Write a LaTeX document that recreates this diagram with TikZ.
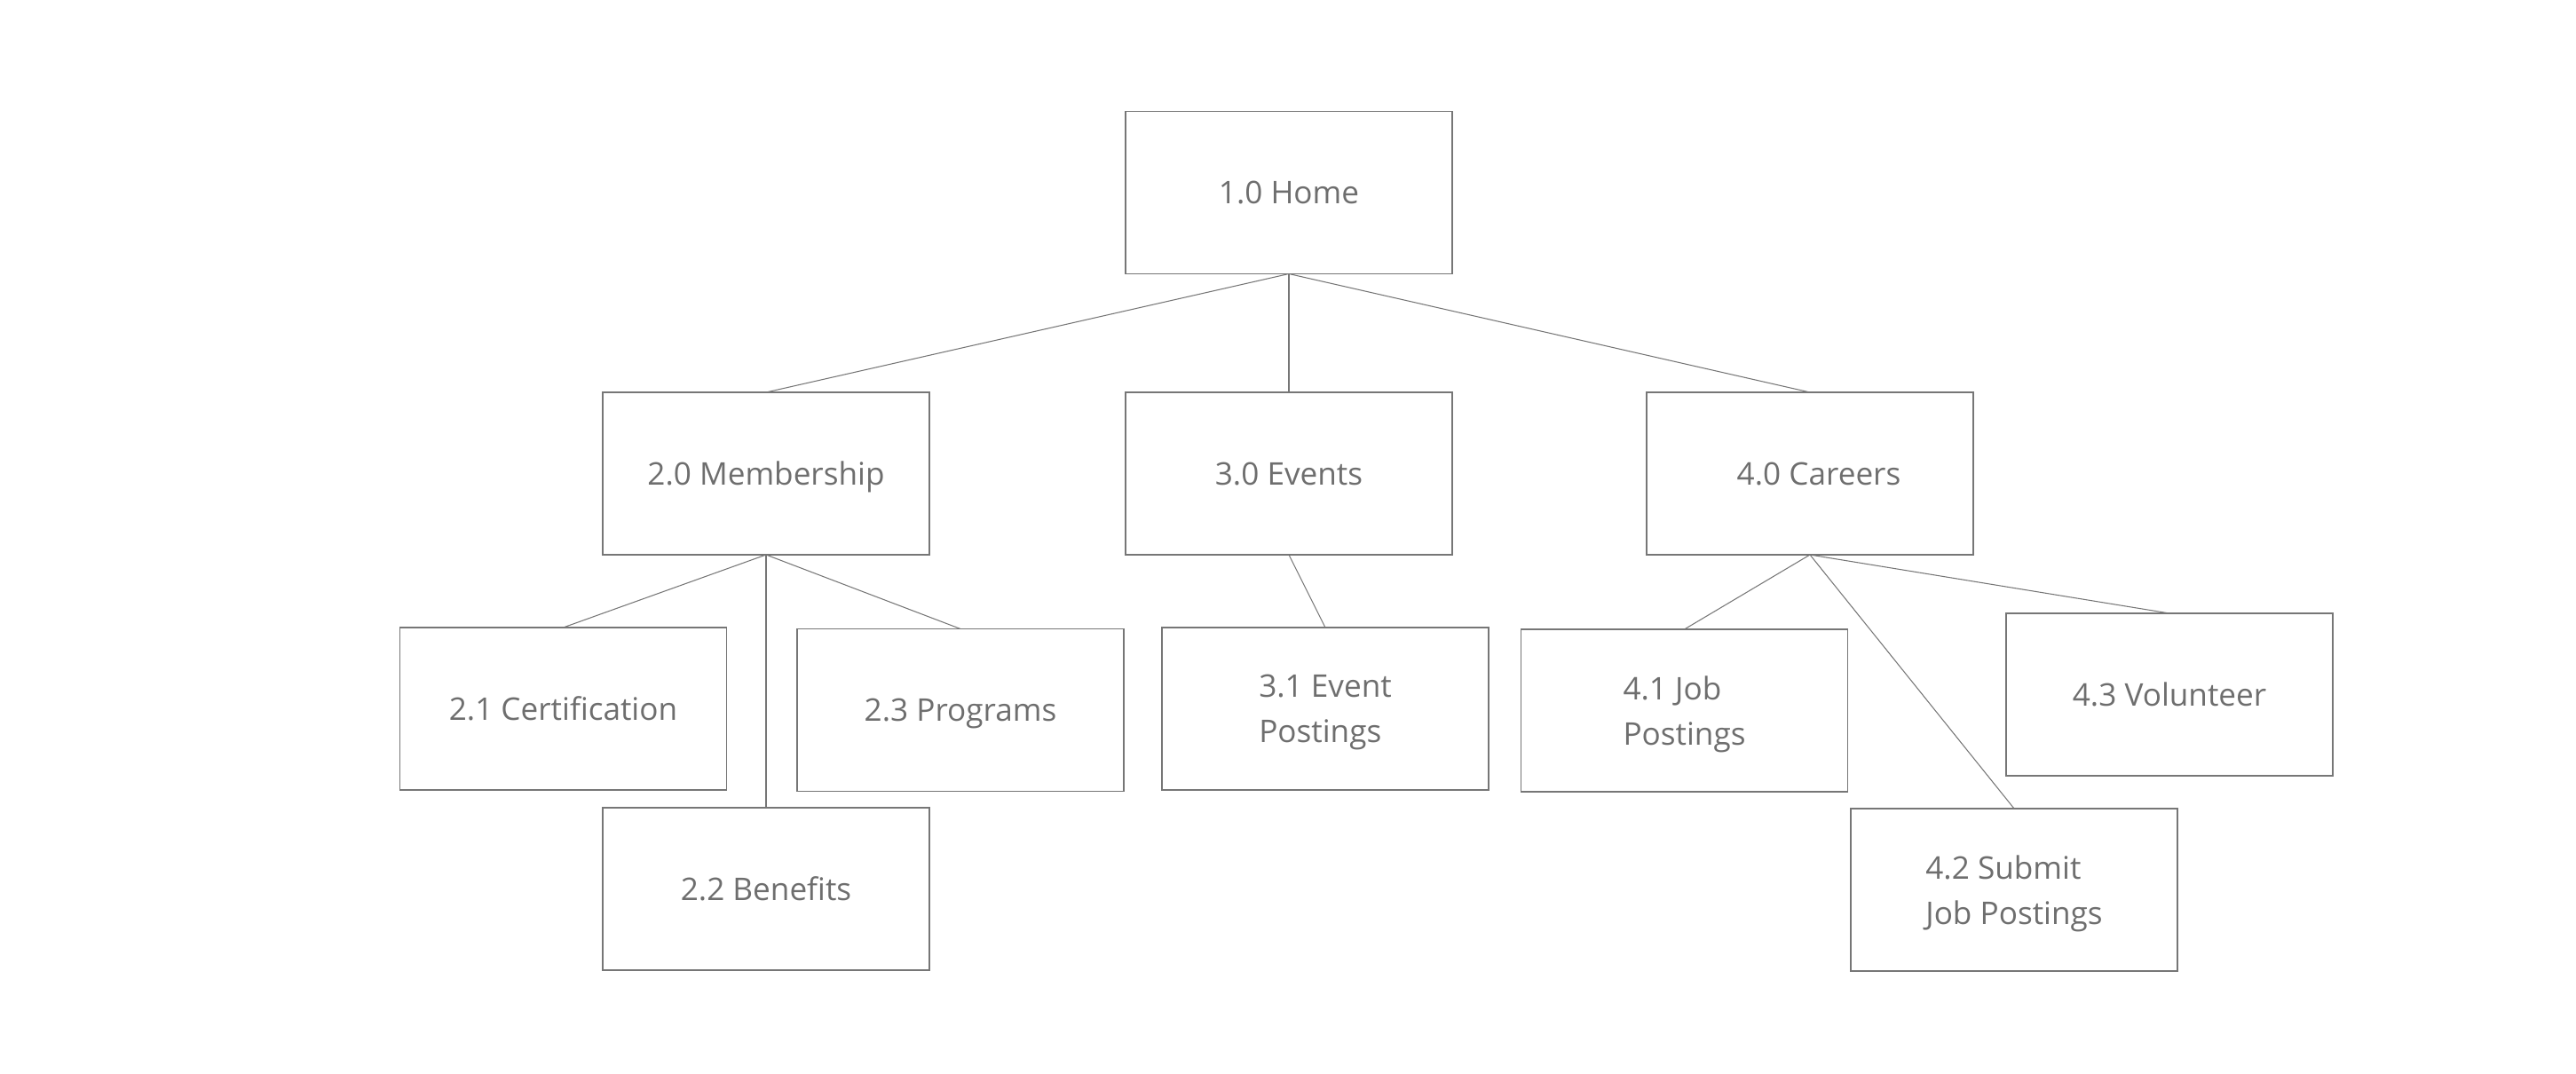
\documentclass[tikz,border=0pt]{standalone}
\usepackage{fontspec}
\setmainfont{Open Sans}
\usepackage{xcolor}
\usepackage{tikz}

\definecolor{boxgray}{RGB}{118,118,118}
\definecolor{textgray}{RGB}{110,110,110}

\tikzset{
  page/.style={draw=boxgray, line width=0.45pt, minimum width=3.68cm, minimum height=1.83cm,
    inner sep=0pt, outer sep=0pt, text=textgray, font=\fontsize{10}{14.5}\selectfont,
    align=left, text depth=-0.16cm},
  link/.style={draw=boxgray, line width=0.3pt}
}

\begin{document}
\begin{tikzpicture}
      \useasboundingbox (0,0) rectangle (29.02,-12.10);

      \node[page] (home) at (14.52,-2.17){1.0 Home};

      \node[page] (memb) at (8.63,-5.335){2.0 Membership};
      \node[page] (events) at (14.52,-5.335){3.0 Events};
      \node[page] (careers) at (20.39,-5.335){\hspace*{0.2cm}4.0 Careers};

      \node[page] (cert) at (6.345,-7.985){2.1 Certification};
      \node[page] (bene) at (8.63,-10.015){2.2 Benefits};
      \node[page] (prog) at (10.82,-8.00){2.3 Programs};

      \node[page] (evpost) at (14.93,-7.985){3.1 Event\\Postings};

      \node[page] (jobpost) at (18.975,-8.005){4.1 Job\\Postings};
      \node[page] (submit) at (22.69,-10.025){4.2 Submit\\Job Postings};
      \node[page] (volun) at (24.44,-7.825){4.3 Volunteer};

      \draw[link] (home.south) -- (memb.north);
      \draw[link] (home.south) -- (events.north);
      \draw[link] (home.south) -- (careers.north);

      \draw[link] (memb.south) -- (cert.north);
      \draw[link] (memb.south) -- (bene.north);
      \draw[link] (memb.south) -- (prog.north);

      \draw[link] (events.south) -- (evpost.north);

      \draw[link] (careers.south) -- (jobpost.north);
      \draw[link] (careers.south) -- (submit.north);
      \draw[link] (careers.south) -- (volun.north);
    \end{tikzpicture}
\end{document}
